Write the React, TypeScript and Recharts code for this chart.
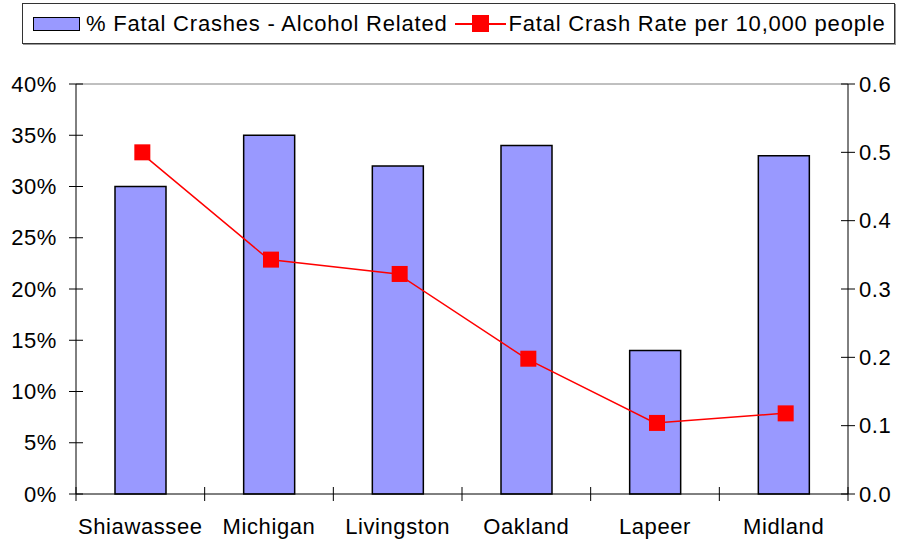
import {
  ComposedChart,
  Bar,
  Line,
  XAxis,
  YAxis,
  ReferenceLine,
} from 'recharts';

const counties = ['Shiawassee', 'Michigan', 'Livingston', 'Oakland', 'Lapeer', 'Midland'];
const alcoholPct = [30, 35, 32, 34, 14, 33];
const crashRate = [0.5, 0.343, 0.322, 0.198, 0.104, 0.118];
const pctTicks = [0, 5, 10, 15, 20, 25, 30, 35, 40];
const rateTicks = [0, 0.1, 0.2, 0.3, 0.4, 0.5, 0.6];

const BAR_NAME = '% Fatal Crashes - Alcohol Related';
const LINE_NAME = 'Fatal Crash Rate per 10,000 people';

const data = counties.map((c, i) => ({ county: c, pct: alcoholPct[i], rate: crashRate[i] }));

const FONT = '"Liberation Sans", Arial, sans-serif';
const textStyle = { fontFamily: FONT, fontSize: 22, letterSpacing: 0.6, fill: '#000' };

const LeftTick = ({ x, y, payload }: any) => (
  <g>
    <line x1={x - 7} x2={x + 7} y1={y} y2={y} stroke="#000" strokeWidth={1} />
    <text x={x - 19} y={y + 7.5} textAnchor="end" style={textStyle}>{`${payload.value}%`}</text>
  </g>
);

const RightTick = ({ x, y, payload }: any) => (
  <g>
    <line x1={x - 7} x2={x + 7} y1={y} y2={y} stroke="#000" strokeWidth={1} />
    <text x={x + 11} y={y + 7.5} textAnchor="start" style={textStyle}>{Number(payload.value).toFixed(1)}</text>
  </g>
);

const BottomTick = ({ x, y, payload, index, width, visibleTicksCount }: any) => {
  const band = width / visibleTicksCount;
  const left = x - band / 2;
  return (
    <g>
      <line x1={left} x2={left} y1={y - 7} y2={y + 7} stroke="#000" strokeWidth={1} />
      {index === visibleTicksCount - 1 && (
        <line x1={x + band / 2} x2={x + band / 2} y1={y - 7} y2={y + 7} stroke="#000" strokeWidth={1} />
      )}
      <text x={x} y={y + 40} textAnchor="middle" style={textStyle}>{payload.value}</text>
    </g>
  );
};

// markers sit a touch right of the bar centres in the original
const SquareDot = ({ cx, cy }: any) => (
  <rect x={cx - 6} y={cy - 8} width={16} height={16} fill="#FF0000" />
);

export default function App() {
  return (
    <div style={{ position: 'relative', width: 904, height: 544, fontFamily: FONT }}>
      <style>{`body{margin:0}`}</style>

      {/* Legend */}
      <div
        style={{
          position: 'absolute',
          left: 22,
          top: 3,
          width: 871,
          height: 39,
          border: '1px solid #333',
          boxShadow: '1px 1px 0 #999',
          display: 'flex',
          alignItems: 'center',
          fontSize: 22,
          letterSpacing: 0.8,
          color: '#000',
          zIndex: 2,
          background: '#fff',
        }}
      >
        <span
          style={{
            marginLeft: 10,
            width: 45,
            height: 12,
            background: '#9999FF',
            border: '1.5px solid #000',
          }}
        />
        <span style={{ marginLeft: 6 }}>{BAR_NAME}</span>
        <span style={{ position: 'relative', marginLeft: 8, width: 51, height: 17 }}>
          <span style={{ position: 'absolute', left: 0, right: 0, top: 8, height: 1.5, background: '#FF0000' }} />
          <span style={{ position: 'absolute', left: 17, top: 0, width: 17, height: 17, background: '#FF0000' }} />
        </span>
        <span style={{ marginLeft: 2 }}>{LINE_NAME}</span>
      </div>

      <ComposedChart
        width={904}
        height={544}
        data={data}
        margin={{ top: 84, right: 0, bottom: 0, left: 0 }}
      >
        <XAxis
          dataKey="county"
          height={50}
          axisLine={{ stroke: '#000', strokeWidth: 1 }}
          tickLine={false}
          tickSize={0}
          tickMargin={0}
          interval={0}
          tick={<BottomTick />}
        />
        <YAxis
          yAxisId="left"
          orientation="left"
          width={76}
          domain={[0, 40]}
          ticks={pctTicks}
          axisLine={{ stroke: '#000', strokeWidth: 1 }}
          tickLine={false}
          tickSize={0}
          tickMargin={0}
          interval={0}
          tick={<LeftTick />}
        />
        <YAxis
          yAxisId="right"
          orientation="right"
          width={56}
          domain={[0, 0.6]}
          ticks={rateTicks}
          axisLine={{ stroke: '#000', strokeWidth: 1 }}
          tickLine={false}
          tickSize={0}
          tickMargin={0}
          interval={0}
          tick={<RightTick />}
        />
        <ReferenceLine yAxisId="left" y={40} stroke="#808080" strokeWidth={1} />
        <Bar
          yAxisId="left"
          dataKey="pct"
          name={BAR_NAME}
          barSize={51}
          fill="#9999FF"
          stroke="#000"
          strokeWidth={1.5}
          isAnimationActive={false}
        />
        <Line
          yAxisId="right"
          dataKey="rate"
          name={LINE_NAME}
          type="linear"
          stroke="#FF0000"
          strokeWidth={1.5}
          dot={<SquareDot />}
          activeDot={false}
          isAnimationActive={false}
        />
      </ComposedChart>
    </div>
  );
}
